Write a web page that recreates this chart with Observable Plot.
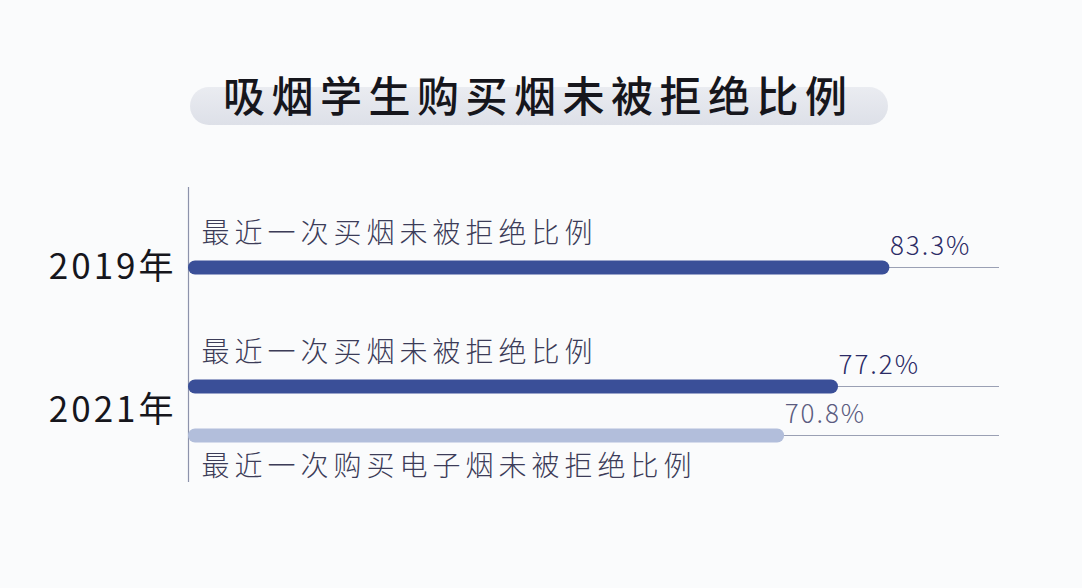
<!DOCTYPE html>
<html><head><meta charset="utf-8">
<script src="https://cdn.jsdelivr.net/npm/d3@7"></script>
<script src="https://cdn.jsdelivr.net/npm/@observablehq/plot@0.6"></script>
<style>
body{margin:0;background:#fafbfc;width:1082px;height:588px;overflow:hidden;font-family:"Noto Sans CJK SC","Noto Sans",sans-serif}
#head{position:relative;height:160px}
#pill{position:absolute;left:190px;top:87px;width:698px;height:38px;border-radius:19px;background:linear-gradient(#eaecf1,#dde0e8)}
#title{position:absolute;left:223px;top:73px;font-size:42px;font-weight:500;letter-spacing:6.5px;color:#16161c;line-height:1;white-space:nowrap}
#chart svg{display:block;overflow:visible}
.cat{letter-spacing:5px}
.val{letter-spacing:2px}
.yr{letter-spacing:3px}
</style>
</head><body>
<div id="head"><div id="pill"></div><div id="title">吸烟学生购买烟未被拒绝比例</div></div>
<div id="chart"></div>
<script>
// data
const years = [2019, 2021, 2021];
const series = ["最近一次买烟未被拒绝比例", "最近一次买烟未被拒绝比例", "最近一次购买电子烟未被拒绝比例"];
const kinds = ["烟", "烟", "电子烟"];
const values = [83.3, 77.2, 70.8];
const yearTicks = [2019, 2021];
const yearLabels = ["2019年", "2021年"];

// styling
const barColor = {"烟": "#3a4f98", "电子烟": "#b2bedb"};
const valColor = {"烟": "#2b2b66", "电子烟": "#5b5b80"};
const rowGap = 49;

const rows = values.map((v, i) => ({year: years[i], series: series[i], kind: kinds[i], value: v}));
// offset of each row inside its year group
const groups = d3.group(rows, d => d.year);
for (const [, g] of groups) {
  g.forEach((r, i) => {
    r.offset = (i - (g.length - 1) / 2) * rowGap;
    r.below = g.length > 1 && i === g.length - 1;
  });
}
const offsets = Array.from(new Set(rows.map(r => r.offset)));

const marks = [Plot.ruleX([0], {stroke: "#8c92ab", strokeWidth: 1.2})];
for (const off of offsets) {
  const sub = rows.filter(r => r.offset === off);
  marks.push(
    Plot.ruleY(sub, {y: "year", dy: off, stroke: "#9aa0b4", strokeWidth: 1.2}),
    Plot.ruleY(sub, {y: "year", x1: () => 0, x2: "value", dy: off, stroke: d => barColor[d.kind],
      strokeWidth: 14, strokeLinecap: "round", insetLeft: 7, insetRight: 7}),
    Plot.text(sub, {y: "year", x: "value", text: d => d.value.toFixed(1) + "%", dy: off - 21,
      textAnchor: "start", lineAnchor: "middle", fill: d => valColor[d.kind], fontSize: 26, fontWeight: 300, className: "val"}),
    Plot.text(sub.filter(r => !r.below), {y: "year", x: () => 0, text: "series", dy: off - 33, dx: 13,
      textAnchor: "start", lineAnchor: "middle", fill: "#3c3c58", fontSize: 28, fontWeight: 300, className: "cat"}),
    Plot.text(sub.filter(r => r.below), {y: "year", x: () => 0, text: "series", dy: off + 32, dx: 13,
      textAnchor: "start", lineAnchor: "middle", fill: "#3c3c58", fontSize: 28, fontWeight: 300, className: "cat"})
  );
}
marks.push(Plot.text(yearTicks, {y: d => d, x: () => 0, text: (d, i) => yearLabels[i], dx: -12,
  textAnchor: "end", lineAnchor: "middle", fill: "#16161c", fontSize: 35, fontWeight: 400, className: "yr"}));

const chart = Plot.plot({
  width: 1082,
  height: 428,
  marginLeft: 188,
  marginRight: 83,
  marginTop: 27,
  marginBottom: 106,
  style: {background: "transparent", fontFamily: "'Noto Sans CJK SC', 'Noto Sans', sans-serif"},
  x: {domain: [0, 100], range: [188, 1030], axis: null},
  y: {domain: [2019, 2021], range: [107, 250.5], axis: null},
  marks
});
document.getElementById("chart").appendChild(chart);
</script>
</body></html>
